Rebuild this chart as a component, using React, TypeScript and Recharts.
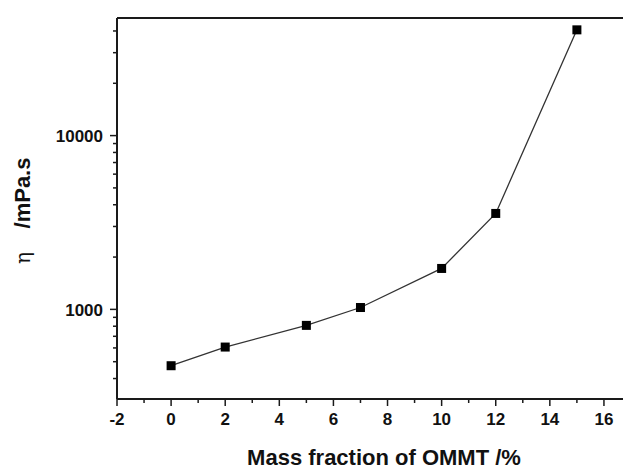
import React from "react";
import { LineChart, Line, XAxis, YAxis, ReferenceLine } from "recharts";

const massFraction = [0, 2, 5, 7, 10, 12, 15];
const viscosity = [474, 607, 809, 1025, 1720, 3565, 40600];

const xTicks = [-2, -1, 0, 1, 2, 3, 4, 5, 6, 7, 8, 9, 10, 11, 12, 13, 14, 15, 16];
const xMajor = [-2, 0, 2, 4, 6, 8, 10, 12, 14, 16];
const yTicks = [400, 500, 600, 700, 800, 900, 1000, 2000, 3000, 4000, 5000, 6000, 7000, 8000, 9000, 10000, 20000, 30000, 40000];
const yMajor = [1000, 10000];
const xDomain = [-2, 17];
const yDomain = [305, 47500];

const xTitle = "Mass fraction of OMMT /%";
const yTitleSymbol = "η";
const yTitleUnit = "/mPa.s";

const data = massFraction.map((x, i) => ({ x, v: viscosity[i] }));

const FONT = "'Liberation Sans', Arial, sans-serif";
const AXIS = "#1a1a1a";

const YTick = (props: any) => {
  const { x, y, payload } = props;
  const major = yMajor.includes(payload.value);
  const ax = x + 14;
  const len = major ? 7 : 4;
  return (
    <g>
      <line x1={ax - len} x2={ax} y1={y} y2={y} stroke={AXIS} strokeWidth={1.5} />
      {major && (
        <text x={x} y={y} dy="0.36em" textAnchor="end" fontFamily={FONT} fontWeight="bold" fontSize={17} fill="#111">
          {payload.value}
        </text>
      )}
    </g>
  );
};

const XTick = (props: any) => {
  const { x, y, payload } = props;
  const major = xMajor.includes(payload.value);
  const ay = y - 14;
  const len = major ? 7 : 4;
  return (
    <g>
      <line x1={x} x2={x} y1={ay} y2={ay + len} stroke={AXIS} strokeWidth={1.5} />
      {major && (
        <text x={x} y={y} dy="0.72em" textAnchor="middle" fontFamily={FONT} fontWeight="bold" fontSize={17} fill="#111">
          {payload.value}
        </text>
      )}
    </g>
  );
};

const Square = (props: any) => {
  const { cx, cy, index } = props;
  if (cx == null || cy == null) return <g key={`d${index}`} />;
  return <rect key={`d${index}`} x={cx - 4.5} y={cy - 4.5} width={9} height={9} fill="#000" />;
};

export default function App() {
  return (
    <div style={{ width: 623, height: 462, position: "relative" }}>
      <LineChart width={623} height={462} data={data} margin={{ top: 10, right: 0, bottom: 0, left: 0 }}>
        <XAxis
          dataKey="x"
          type="number"
          domain={xDomain}
          ticks={xTicks}
          interval={0}
          height={71}
          tickSize={7}
          tickMargin={7}
          tickLine={false}
          tick={<XTick />}
          axisLine={{ stroke: AXIS, strokeWidth: 2 }}
          allowDataOverflow
        />
        <YAxis
          type="number"
          scale="log"
          domain={yDomain}
          ticks={yTicks}
          interval={0}
          width={109}
          tickSize={7}
          tickMargin={7}
          tickLine={false}
          tick={<YTick />}
          axisLine={{ stroke: AXIS, strokeWidth: 2 }}
          allowDataOverflow
        />
        <ReferenceLine y={yDomain[1]} stroke={AXIS} strokeWidth={2} ifOverflow="visible" />
        <Line
          dataKey="v"
          stroke="#333"
          strokeWidth={1.3}
          dot={Square}
          activeDot={false}
          isAnimationActive={false}
        />
        <text x={376} y={457} textAnchor="middle" fontFamily={FONT} fontWeight="bold" fontSize={22} fill="#111">
          {xTitle}
        </text>
        <text
          x={22}
          y={250}
          transform="rotate(-90, 22, 250)"
          textAnchor="middle"
          fontFamily="'DejaVu Serif', serif"
          fontSize={20}
          fill="#111"
        >
          {yTitleSymbol}
        </text>
        <text
          x={22}
          y={185}
          transform="rotate(-90, 22, 185)"
          textAnchor="middle"
          fontFamily={FONT}
          fontWeight="bold"
          fontSize={22}
          fill="#111"
        >
          {yTitleUnit}
        </text>
      </LineChart>
    </div>
  );
}
